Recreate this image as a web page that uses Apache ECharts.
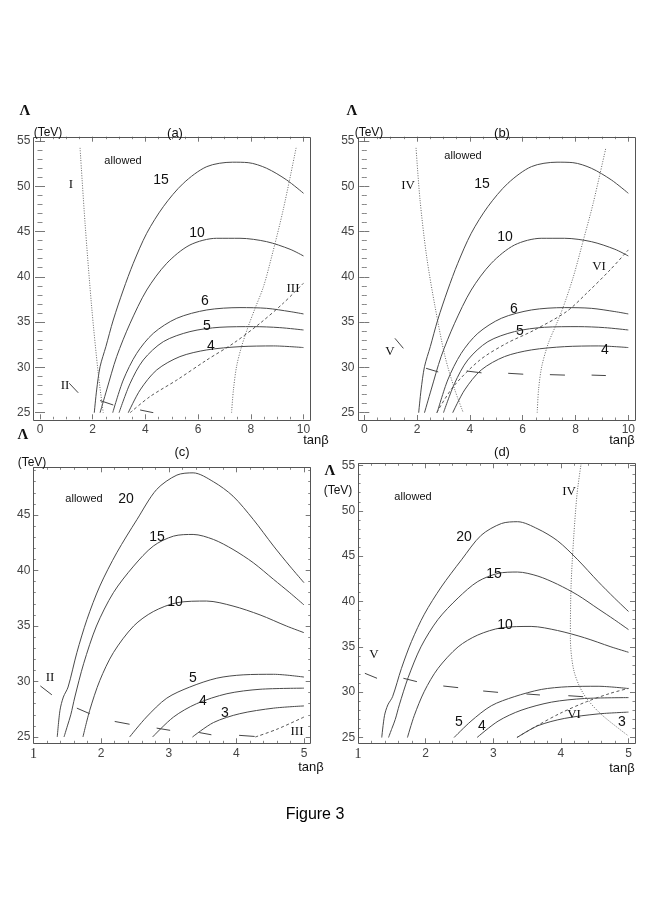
<!DOCTYPE html>
<html><head><meta charset="utf-8">
<script src="https://cdn.jsdelivr.net/npm/echarts@6/dist/echarts.min.js"></script>
<style>html,body{margin:0;padding:0;background:#fff}#c{width:654px;height:899px}</style>
</head><body><div id="c"></div>
<script>
// ---------- data: panels (a) and (b) share the contour curves ----------
const c15ab = [[2.06,25],[2.15,27.51],[2.28,30.08],[2.5,32.29],[2.78,35.23],[3.16,38.54],[3.54,41.49],[4.05,44.8],[4.68,47.74],[5.44,50.32],[6.33,52.16],[7.3,52.65],[7.9,52.6],[8.6,51.98],[9.36,50.69],[10,49.22]];
const c10ab = [[2.28,25],[2.53,27.51],[2.91,31.19],[3.42,34.87],[4.05,38.54],[4.81,41.49],[5.69,43.51],[6.7,44.25],[7.59,44.25],[8.6,43.88],[9.49,43.04],[10,42.3]];
const c6ab  = [[2.76,25],[3.16,28.61],[3.67,31.55],[4.3,33.76],[5.19,35.42],[6.33,36.34],[7.59,36.6],[8.6,36.52],[9.49,36.16],[10,35.9]];
const c5ab  = [[3.0,25],[3.42,28.24],[3.92,30.82],[4.68,32.84],[5.69,33.95],[6.83,34.43],[8.1,34.5],[9.1,34.39],[10,34.13]];
const c4ab  = [[3.35,25],[3.8,27.51],[4.43,29.72],[5.31,31.19],[6.33,31.93],[7.59,32.29],[8.86,32.37],[10,32.19]];
// panel (a) boundaries
const dotI_a   = [[1.52,54.23],[1.71,45.9],[1.96,36.7],[2.21,29.35],[2.4,25]];
const dotR_a   = [[7.27,25],[7.34,27.5],[7.46,30.1],[7.65,32.3],[7.9,34.5],[8.16,36.5],[8.48,38.9],[8.79,42.2],[9.23,47.4],[9.72,54.23]];
const dashIII_a= [[3.42,25],[4.17,26.77],[5.19,28.6],[6.33,30.82],[7.34,32.66],[8.35,34.87],[9.23,37.08],[10,39.3]];
const long_a   = [[[1.11,28.25],[1.45,27.2]],[[2.28,26.34],[2.78,25.85]],[[3.8,25.3],[4.3,25.0]]];
// panel (b) boundaries
const dotIV_b  = [[1.96,54.23],[2.11,48.52],[2.36,42.26],[2.68,36.7],[3.06,31.19],[3.43,27.51],[3.75,25]];
const dotR_b   = [[6.55,25],[6.6,27.51],[6.72,30.08],[6.97,32.66],[7.29,34.87],[7.54,36.7],[7.92,40.02],[8.3,44.07],[8.67,48.12],[9.15,54.23]];
const dashVI_b = [[2.74,25],[3.37,27.87],[4.38,30.82],[5.39,32.66],[6.4,34.06],[7.66,36.16],[8.42,38.18],[9.31,40.76],[10,42.97]];
const long_b   = [[[1.16,33.21],[1.48,32.1]],[[2.34,29.9],[2.8,29.5]],[[3.88,29.6],[4.44,29.4]],[[5.45,29.35],[6.02,29.25]],[[7.03,29.2],[7.6,29.15]],[[8.61,29.15],[9.15,29.1]]];
// ---------- panels (c) and (d) share the contour curves ----------
const c20cd = [[1.35,25],[1.39,27.4],[1.44,28.6],[1.51,29.5],[1.64,32.6],[1.79,35.6],[1.98,38.6],[2.23,41.6],[2.53,44.6],[2.82,47.3],[3.12,48.6],[3.36,48.8],[3.66,48.0],[3.95,46.7],[4.25,44.6],[4.55,42.2],[4.79,40.4],[5.0,38.9]];
const c15cd = [[1.45,25],[1.5,26.0],[1.55,27.0],[1.61,28.6],[1.74,31.6],[1.93,35.0],[2.18,38.0],[2.48,40.4],[2.77,42.2],[3.07,43.1],[3.36,43.25],[3.66,42.8],[3.95,41.9],[4.25,40.7],[4.55,39.2],[4.79,38.0],[5.0,36.9]];
const c10cd = [[1.73,25],[1.83,27.4],[1.98,30.1],[2.18,32.6],[2.48,35.0],[2.77,36.3],[3.12,37.1],[3.56,37.25],[3.95,36.8],[4.35,36.0],[4.74,35.0],[5.0,34.4]];
const c5cd  = [[2.42,25],[2.67,26.8],[2.97,28.5],[3.31,29.5],[3.71,30.3],[4.1,30.6],[4.55,30.65],[5.0,30.4]];
const c4cd  = [[2.76,25],[3.07,26.8],[3.41,28.0],[3.86,28.9],[4.35,29.3],[5.0,29.4]];
const c3cd  = [[3.35,25],[3.66,26.3],[4.05,27.1],[4.55,27.6],[5.0,27.8]];
// panel (c) boundaries
const dashIII_c= [[4.28,25.0],[4.6,25.7],[5.0,26.8]];
const long_c   = [[[1.1,29.6],[1.27,28.8]],[[1.64,27.6],[1.83,27.1]],[[2.2,26.4],[2.42,26.15]],[[2.82,25.8],[3.02,25.6]],[[3.45,25.4],[3.63,25.2]],[[4.04,25.15],[4.27,25.05]]];
// panel (d) boundaries
const dotIV_d  = [[4.3,55.24],[4.24,51.93],[4.19,47.15],[4.15,41.64],[4.14,36.12],[4.19,32.44],[4.33,29.87],[4.58,27.67],[5.0,25.17]];
const dashVI_d = [[3.35,25],[3.64,26.27],[3.99,27.67],[4.38,28.95],[4.73,29.87],[5.0,30.42]];
const long_d   = [[[1.1,32.08],[1.28,31.53]],[[1.67,31.53],[1.87,31.16]],[[2.26,30.68],[2.48,30.5]],[[2.85,30.13],[3.07,29.98]],[[3.49,29.8],[3.69,29.69]],[[4.11,29.61],[4.33,29.5]]];
// axis ranges
const xRangeAB = [0,10], yRangeAB = [25,55];
const xRangeCD = [1,5], yRangeC = [25,49.3], yRangeD = [25,55];

// ---------- layout ----------
const panels = [
  {grid:{left:40,top:140.9,width:263.5,height:271.8}, frame:[33.3,136.7,310.5,419.3], x:xRangeAB, xi:2, xm:4, y:yRangeAB, yi:5, ym:5},
  {grid:{left:364.3,top:140.9,width:264,height:271.8}, frame:[357.5,136.7,634.3,420], x:xRangeAB, xi:2, xm:4, y:yRangeAB, yi:5, ym:5},
  {grid:{left:33.6,top:467.3,width:270.4,height:269.7}, frame:[33.3,467.3,310.7,743.3], x:xRangeCD, xi:1, xm:5, y:yRangeC, yi:5, ym:5},
  {grid:{left:358.1,top:465.5,width:270.4,height:272}, frame:[358.1,463.3,635,743.3], x:xRangeCD, xi:1, xm:5, y:yRangeD, yi:5, ym:5}
];
const AX = '#555';
const grids=[], xAxes=[], yAxes=[], series=[], graphics=[];
const lblFont = {color:'#444', fontSize:12, fontFamily:'Liberation Sans, Arial, sans-serif'};
panels.forEach((p,gi)=>{
  grids.push(Object.assign({outerBoundsMode:'none', containLabel:false}, p.grid));
  const g=p.grid, f=p.frame;
  const off = {l:g.left-f[0], r:f[2]-(g.left+g.width), t:g.top-f[1], b:f[3]-(g.top+g.height)};
  const tick = {show:true, inside:true, length:5, lineStyle:{color:AX,width:0.8}};
  const base = (mn,mx,it,ms)=>({type:'value', min:mn, max:mx, interval:it, axisLine:{show:false},
     axisTick:tick, minorTick:{show:true, splitNumber:ms, length:2.5, lineStyle:{color:AX,width:0.7}},
     splitLine:{show:false}, minorSplitLine:{show:false}, gridIndex:gi});
  xAxes.push(Object.assign(base(p.x[0],p.x[1],p.xi,p.xm), {position:'bottom', offset:off.b,
     axisLabel:Object.assign({show:true, margin:4, showMinLabel:true, showMaxLabel:(p.x[1]%p.xi===0),
       formatter:(v)=> (gi>=2 && v===1) ? '{s|1}' : String(v),
       rich:{s:{fontFamily:'Liberation Serif, serif', fontSize:14, color:'#333'}}}, lblFont)}));
  xAxes.push(Object.assign(base(p.x[0],p.x[1],p.xi,p.xm), {position:'top', offset:off.t, axisLabel:{show:false}}));
  yAxes.push(Object.assign(base(p.y[0],p.y[1],p.yi,p.ym), {position:'left', offset:off.l,
     axisLabel:Object.assign({show:true, margin:3, showMinLabel:true, showMaxLabel:(p.y[1]%p.yi===0)}, lblFont)}));
  yAxes.push(Object.assign(base(p.y[0],p.y[1],p.yi,p.ym), {position:'right', offset:off.r, axisLabel:{show:false}}));
  graphics.push({type:'rect', shape:{x:Math.round(f[0])+0.5, y:Math.round(f[1])+0.5, width:Math.round(f[2]-f[0]), height:Math.round(f[3]-f[1])},
     style:{fill:'none', stroke:'#555', lineWidth:1}, silent:true, z:10});
});

function line(gi, data, kind){
  const ls = {solid:{color:'#4a4a4a', width:1, type:'solid'},
              dotted:{color:'#666', width:1, type:[1,1.5]},
              dashed:{color:'#444', width:0.9, type:[3,2.5]}}[kind];
  series.push({type:'line', xAxisIndex:2*gi, yAxisIndex:2*gi, data:data, showSymbol:false, symbol:'none',
    smooth:0.3, clip:false, silent:true, lineStyle:ls, z:3, animation:false});
}
function segs(gi, list){
  series.push({type:'lines', coordinateSystem:'cartesian2d', xAxisIndex:2*gi, yAxisIndex:2*gi,
    data:list.map(s=>({coords:s})), lineStyle:{color:'#444', width:1, type:'solid', opacity:1}, silent:true, z:3, animation:false});
}
// (a)
[c15ab,c10ab,c6ab,c5ab,c4ab].forEach(d=>line(0,d,'solid'));
line(0,dotI_a,'dotted'); line(0,dotR_a,'dotted'); line(0,dashIII_a,'dashed'); segs(0,long_a);
// (b)
[c15ab,c10ab,c6ab,c5ab,c4ab].forEach(d=>line(1,d,'solid'));
line(1,dotIV_b,'dotted'); line(1,dotR_b,'dotted'); line(1,dashVI_b,'dashed'); segs(1,long_b);
// (c)
[c20cd,c15cd,c10cd,c5cd,c4cd,c3cd].forEach(d=>line(2,d,'solid'));
line(2,dashIII_c,'dashed'); segs(2,long_c);
// (d)
[c20cd,c15cd,c10cd,c5cd,c4cd,c3cd].forEach(d=>line(3,d,'solid'));
line(3,dotIV_d,'dotted'); line(3,dashVI_d,'dashed'); segs(3,long_d);

// ---------- texts ----------
const SANS='"Liberation Sans", Arial, sans-serif', SERIF='"Liberation Serif", "Times New Roman", serif';
function txt(s,x,y,font,color){
  graphics.push({type:'text', x:x, y:y, silent:true, z:20,
    style:{text:s, font:font, fill:color||'#111', textAlign:'center', textVerticalAlign:'middle', align:'center', verticalAlign:'middle'}});
}
const F_L='bold 15px '+SERIF, F_U='12px '+SANS, F_P='13px '+SANS, F_AL='11px '+SANS, F_N='14px '+SANS, F_R='13px '+SERIF, F_T='13px '+SANS;
// (a)
txt('Λ',25,111,F_L); txt('(TeV)',48,133,F_U); txt('(a)',175,133,F_P); txt('allowed',123,161,F_AL);
txt('15',161,180,F_N); txt('10',197,233,F_N); txt('6',205,301,F_N); txt('5',207,326,F_N); txt('4',211,346,F_N);
txt('I',71,185,F_R); txt('II',65,386,F_R); txt('III',293,289,F_R); txt('tanβ',316,440,F_T);
// (b)
txt('Λ',352,111,F_L); txt('(TeV)',369,133,F_U); txt('(b)',502,133,F_P); txt('allowed',463,156,F_AL);
txt('15',482,184,F_N); txt('10',505,237,F_N); txt('6',514,309,F_N); txt('5',520,331,F_N); txt('4',605,350,F_N);
txt('IV',408,186,F_R); txt('V',390,352,F_R); txt('VI',599,267,F_R); txt('tanβ',622,440,F_T);
// (c)
txt('Λ',23,435,F_L); txt('(TeV)',32,463,F_U); txt('(c)',182,452,F_P); txt('allowed',84,499,F_AL);
txt('20',126,499,F_N); txt('15',157,537,F_N); txt('10',175,602,F_N); txt('5',193,678,F_N); txt('4',203,701,F_N); txt('3',225,713,F_N);
txt('II',50,678,F_R); txt('III',297,732,F_R); txt('tanβ',311,767,F_T);
// (d)
txt('Λ',330,471,F_L); txt('(TeV)',338,491,F_U); txt('(d)',502,452,F_P); txt('allowed',413,497,F_AL);
txt('20',464,537,F_N); txt('15',494,574,F_N); txt('10',505,625,F_N); txt('5',459,722,F_N); txt('4',482,726,F_N); txt('3',622,722,F_N);
txt('IV',569,492,F_R); txt('V',374,655,F_R); txt('VI',574,715,F_R); txt('tanβ',622,768,F_T);
txt('Figure 3',315,815,'16px '+SANS,'#000');

const chart = echarts.init(document.getElementById('c'));
chart.setOption({animation:false, backgroundColor:'#fff', grid:grids, xAxis:xAxes, yAxis:yAxes, series:series, graphic:{elements:graphics}});
</script></body></html>
